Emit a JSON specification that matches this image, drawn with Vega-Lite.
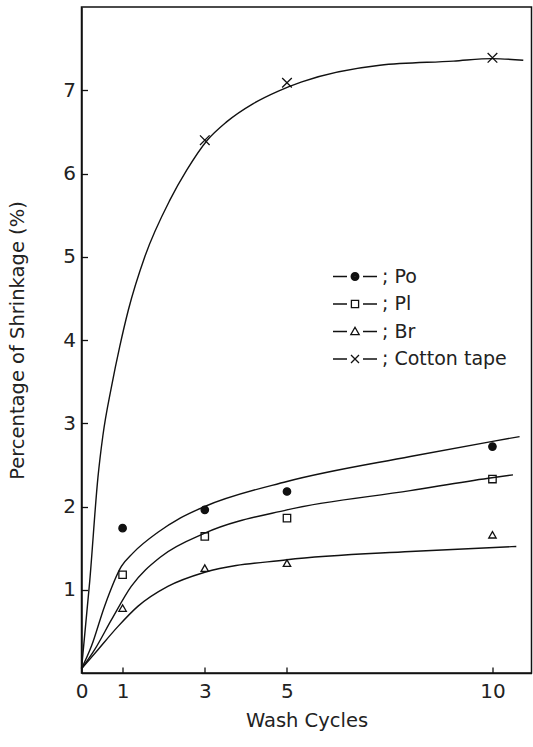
{
  "$schema": "https://vega.github.io/schema/vega-lite/v6.json",
  "width": 450,
  "height": 666,
  "autosize": {"type": "none"},
  "padding": {"left": 81.5, "top": 7, "right": 1.5, "bottom": 74},
  "background": "white",
  "config": {
    "view": {"stroke": "#111", "strokeWidth": 1.5},
    "font": "DejaVu Sans",
    "axis": {
      "domainColor": "#111",
      "domainWidth": 1.5,
      "tickColor": "#111",
      "tickWidth": 1.3,
      "tickSize": -6,
      "grid": false,
      "labelFont": "DejaVu Sans",
      "labelFontSize": 20,
      "labelColor": "#222",
      "titleFont": "DejaVu Sans",
      "titleFontSize": 19.5,
      "titleFontWeight": "normal",
      "titleColor": "#222"
    }
  },
  "resolve": {"scale": {"shape": "independent"}, "legend": {"shape": "independent"}},
  "datasets": {
    "curves": [
      {"series": "Cotton tape", "cycles": 0, "shrinkage": 0.05},
      {"series": "Cotton tape", "cycles": 0.2, "shrinkage": 1.1},
      {"series": "Cotton tape", "cycles": 0.4, "shrinkage": 2.35},
      {"series": "Cotton tape", "cycles": 0.52, "shrinkage": 2.85},
      {"series": "Cotton tape", "cycles": 0.73, "shrinkage": 3.44},
      {"series": "Cotton tape", "cycles": 0.93, "shrinkage": 3.92},
      {"series": "Cotton tape", "cycles": 1.14, "shrinkage": 4.36},
      {"series": "Cotton tape", "cycles": 1.54, "shrinkage": 5.0},
      {"series": "Cotton tape", "cycles": 2.15, "shrinkage": 5.68},
      {"series": "Cotton tape", "cycles": 2.56, "shrinkage": 6.04},
      {"series": "Cotton tape", "cycles": 3.06, "shrinkage": 6.4},
      {"series": "Cotton tape", "cycles": 3.53, "shrinkage": 6.62},
      {"series": "Cotton tape", "cycles": 4.18, "shrinkage": 6.84},
      {"series": "Cotton tape", "cycles": 4.79, "shrinkage": 6.99},
      {"series": "Cotton tape", "cycles": 5.36, "shrinkage": 7.1},
      {"series": "Cotton tape", "cycles": 7.26, "shrinkage": 7.3},
      {"series": "Cotton tape", "cycles": 9.05, "shrinkage": 7.35},
      {"series": "Cotton tape", "cycles": 10.0, "shrinkage": 7.38},
      {"series": "Cotton tape", "cycles": 10.75, "shrinkage": 7.36},
      {"series": "Po", "cycles": 0, "shrinkage": 0.05},
      {"series": "Po", "cycles": 0.24, "shrinkage": 0.32},
      {"series": "Po", "cycles": 0.56, "shrinkage": 0.8},
      {"series": "Po", "cycles": 0.97, "shrinkage": 1.28},
      {"series": "Po", "cycles": 1.25, "shrinkage": 1.44},
      {"series": "Po", "cycles": 1.86, "shrinkage": 1.69},
      {"series": "Po", "cycles": 2.4, "shrinkage": 1.86},
      {"series": "Po", "cycles": 3.0, "shrinkage": 2.0},
      {"series": "Po", "cycles": 5.0, "shrinkage": 2.3},
      {"series": "Po", "cycles": 8.0, "shrinkage": 2.6},
      {"series": "Po", "cycles": 9.97, "shrinkage": 2.78},
      {"series": "Po", "cycles": 10.66, "shrinkage": 2.84},
      {"series": "Pl", "cycles": 0, "shrinkage": 0.05},
      {"series": "Pl", "cycles": 0.32, "shrinkage": 0.28},
      {"series": "Pl", "cycles": 0.73, "shrinkage": 0.64},
      {"series": "Pl", "cycles": 1.21, "shrinkage": 1.04},
      {"series": "Pl", "cycles": 1.94, "shrinkage": 1.4},
      {"series": "Pl", "cycles": 3.0, "shrinkage": 1.68},
      {"series": "Pl", "cycles": 5.0, "shrinkage": 1.96},
      {"series": "Pl", "cycles": 8.0, "shrinkage": 2.19},
      {"series": "Pl", "cycles": 9.9, "shrinkage": 2.34},
      {"series": "Pl", "cycles": 10.5, "shrinkage": 2.38},
      {"series": "Br", "cycles": 0, "shrinkage": 0.05},
      {"series": "Br", "cycles": 0.4, "shrinkage": 0.28},
      {"series": "Br", "cycles": 0.89, "shrinkage": 0.56},
      {"series": "Br", "cycles": 1.37, "shrinkage": 0.8},
      {"series": "Br", "cycles": 2.1, "shrinkage": 1.04},
      {"series": "Br", "cycles": 3.0, "shrinkage": 1.21},
      {"series": "Br", "cycles": 5.0, "shrinkage": 1.36},
      {"series": "Br", "cycles": 8.0, "shrinkage": 1.46},
      {"series": "Br", "cycles": 10.58, "shrinkage": 1.52}
    ],
    "markers": [
      {"series": "Po", "cycles": 1, "shrinkage": 1.74},
      {"series": "Po", "cycles": 3, "shrinkage": 1.96},
      {"series": "Po", "cycles": 5, "shrinkage": 2.18},
      {"series": "Po", "cycles": 10, "shrinkage": 2.72},
      {"series": "Pl", "cycles": 1, "shrinkage": 1.18},
      {"series": "Pl", "cycles": 3, "shrinkage": 1.64},
      {"series": "Pl", "cycles": 5, "shrinkage": 1.86},
      {"series": "Pl", "cycles": 10, "shrinkage": 2.33},
      {"series": "Br", "cycles": 1, "shrinkage": 0.78},
      {"series": "Br", "cycles": 3, "shrinkage": 1.26},
      {"series": "Br", "cycles": 5, "shrinkage": 1.32},
      {"series": "Br", "cycles": 10, "shrinkage": 1.66},
      {"series": "Cotton tape", "cycles": 3, "shrinkage": 6.4},
      {"series": "Cotton tape", "cycles": 5, "shrinkage": 7.09},
      {"series": "Cotton tape", "cycles": 10, "shrinkage": 7.39}
    ]
  },
  "layer": [
    {
      "data": {"name": "curves"},
      "mark": {"type": "line", "interpolate": "monotone", "color": "#111", "strokeWidth": 1.4},
      "encoding": {
        "x": {
          "field": "cycles", "type": "quantitative",
          "scale": {"domain": [0, 10.95], "nice": false, "zero": false},
          "axis": {"values": [0, 1, 3, 5, 10], "format": "d", "title": "Wash Cycles", "labelPadding": 14, "titlePadding": 10, "labelFlush": false}
        },
        "y": {
          "field": "shrinkage", "type": "quantitative",
          "scale": {"domain": [0, 8], "nice": false},
          "axis": {"values": [1, 2, 3, 4, 5, 6, 7], "format": "d", "title": "Percentage of Shrinkage (%)", "labelPadding": 12, "titlePadding": 35}
        },
        "detail": {"field": "series"}
      }
    },
    {
      "data": {"name": "markers"},
      "mark": {"type": "point", "filled": false, "strokeWidth": 1.3, "opacity": 1},
      "encoding": {
        "x": {"field": "cycles", "type": "quantitative"},
        "y": {"field": "shrinkage", "type": "quantitative"},
        "shape": {
          "field": "series", "type": "nominal",
          "scale": {"domain": ["Po", "Pl", "Br", "Cotton tape"], "range": ["circle", "square", "triangle-up", "M-1.3,-1.3L1.3,1.3M-1.3,1.3L1.3,-1.3"]},
          "legend": null
        },
        "size": {"value": 55},
        "stroke": {"value": "#111"},
        "fill": {"condition": {"test": "datum.series === 'Po'", "value": "#111"}, "value": "transparent"}
      }
    },
    {
      "data": {"name": "markers"},
      "mark": {"type": "point", "filled": false, "strokeWidth": 1.3, "opacity": 0},
      "encoding": {
        "x": {"field": "cycles", "type": "quantitative"},
        "y": {"field": "shrinkage", "type": "quantitative"},
        "shape": {
          "field": "series", "type": "nominal",
          "scale": {
            "domain": ["Po", "Pl", "Br", "Cotton tape"],
            "range": [
              "M-2.2,0H-0.8M0.8,0H2.2M-0.38,0A0.38,0.38 0 1,1 0.38,0A0.38,0.38 0 1,1 -0.38,0M-0.26,0A0.26,0.26 0 1,1 0.26,0A0.26,0.26 0 1,1 -0.26,0M-0.14,0A0.14,0.14 0 1,1 0.14,0A0.14,0.14 0 1,1 -0.14,0M-0.04,0A0.04,0.04 0 1,1 0.04,0A0.04,0.04 0 1,1 -0.04,0",
              "M-2.2,0H-0.8M0.8,0H2.2M-0.36,-0.36H0.36V0.36H-0.36Z",
              "M-2.2,0H-0.8M0.8,0H2.2M0,-0.42L0.42,0.32H-0.42Z",
              "M-2.2,0H-0.8M0.8,0H2.2M-0.4,-0.4L0.4,0.4M-0.4,0.4L0.4,-0.4"
            ]
          },
          "legend": {
            "orient": "none",
            "legendX": 262.5,
            "legendY": 258.5,
            "padding": 0,
            "title": null,
            "labelExpr": "'; ' + datum.label",
            "labelFont": "DejaVu Sans",
            "labelFontSize": 19,
            "labelColor": "#222",
            "labelOffset": 16,
            "symbolSize": 400,
            "symbolStrokeWidth": 1.3,
            "symbolOpacity": 1,
            "symbolStrokeColor": "#111",
            "symbolFillColor": "transparent",
            "rowPadding": 6.5
          }
        },
        "size": {"value": 45},
        "stroke": {"value": "#111"}
      }
    }
  ]
}
